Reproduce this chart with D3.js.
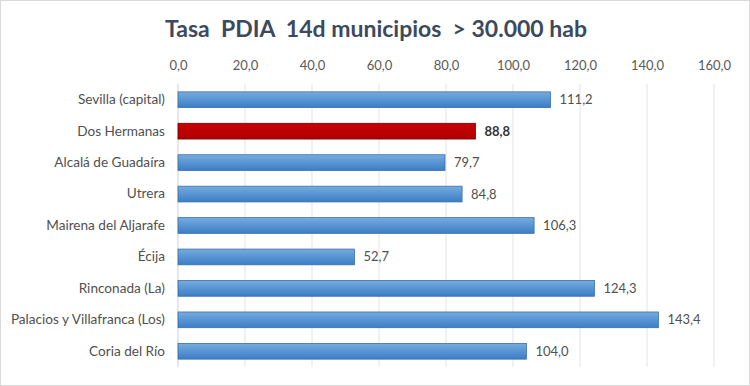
<!DOCTYPE html>
<html>
<head>
<meta charset="utf-8">
<script src="https://cdn.jsdelivr.net/npm/d3@7"></script>
<style>
  body { margin: 0; background: #fff; }
  svg { display: block; }
  text { font-family: Lato, "Open Sans", sans-serif; }
</style>
</head>
<body>
<svg id="chart" width="750" height="386"></svg>
<script>
// data
var municipios = ["Sevilla (capital)", "Dos Hermanas", "Alcalá de Guadaíra", "Utrera",
    "Mairena del Aljarafe", "Écija", "Rinconada (La)", "Palacios y Villafranca (Los)", "Coria del Río"];
var tasas = [111.2, 88.8, 79.7, 84.8, 106.3, 52.7, 124.3, 143.4, 104.0];
var destacado = "Dos Hermanas";
var xTicks = [0, 20, 40, 60, 80, 100, 120, 140, 160];
var titulo = "Tasa  PDIA  14d municipios  > 30.000 hab";

var W = 750, H = 386;
var margin = {top: 84, right: 34, bottom: 19, left: 178};

var svg = d3.select("#chart");
var fmt = function(v){ return d3.format(".1f")(v).replace(".", ","); };

// frame
svg.append("rect")
    .attr("x", 0.5).attr("y", 0.5)
    .attr("width", W - 1).attr("height", H - 1)
    .attr("fill", "#fff").attr("stroke", "#d9d9d9");

var defs = svg.append("defs");
function grad(id, c1, c2) {
    var g = defs.append("linearGradient").attr("id", id)
        .attr("x1", 0).attr("y1", 0).attr("x2", 0).attr("y2", 1);
    g.append("stop").attr("offset", "0%").attr("stop-color", c1);
    g.append("stop").attr("offset", "100%").attr("stop-color", c2);
}
grad("gBlue", "#76acdf", "#3b7dc6");
grad("gRed", "#c80000", "#b00000");

var x = d3.scaleLinear().domain([0, 160]).range([margin.left, W - margin.right - 2]);
var y = d3.scaleBand().domain(municipios)
    .range([margin.top, H - margin.bottom]).paddingInner(0.5).paddingOuter(0.25);

// title
svg.append("text")
    .attr("x", 376).attr("y", 37)
    .attr("text-anchor", "middle")
    .attr("font-size", 23).attr("font-weight", 700)
    .attr("fill", "#3b4a5c")
    .style("white-space", "pre")
    .text(titulo);

// gridlines
svg.append("g").selectAll("line")
    .data(xTicks)
    .join("line")
    .attr("x1", d => x(d)).attr("x2", d => x(d))
    .attr("y1", margin.top).attr("y2", H - margin.bottom)
    .attr("stroke", d => d === 0 ? "#d0d0d0" : "#e3e3e3")
    .attr("stroke-width", 1);

// top axis labels
var ax = svg.append("g")
    .attr("transform", "translate(0," + (margin.top - 11) + ")")
    .call(d3.axisTop(x).tickValues(xTicks).tickFormat(fmt).tickSize(0));
ax.select(".domain").remove();
ax.selectAll("text").attr("font-size", 13).attr("fill", "#595959")
    .attr("font-family", "Lato, sans-serif");

// category labels
var ay = svg.append("g")
    .attr("transform", "translate(" + (margin.left - 13) + ",0)")
    .call(d3.axisLeft(y).tickSize(0).tickPadding(0));
ay.select(".domain").remove();
ay.selectAll("text").attr("font-size", 13.6).attr("fill", "#505050")
    .attr("font-family", "Lato, sans-serif");

// bars
svg.append("g").selectAll("rect")
    .data(municipios)
    .join("rect")
    .attr("x", x(0))
    .attr("y", d => y(d))
    .attr("width", (d, i) => x(tasas[i]) - x(0))
    .attr("height", y.bandwidth())
    .attr("fill", d => d === destacado ? "url(#gRed)" : "url(#gBlue)")
    .attr("stroke", d => d === destacado ? "#6e0000" : "#3a6fa8")
    .attr("stroke-width", 0.8);

// value labels
svg.append("g").selectAll("text")
    .data(municipios)
    .join("text")
    .attr("x", (d, i) => x(tasas[i]) + 9)
    .attr("y", d => y(d) + y.bandwidth() / 2)
    .attr("dy", "0.35em")
    .attr("font-size", 13)
    .attr("font-weight", d => d === destacado ? 700 : 400)
    .attr("fill", d => d === destacado ? "#333" : "#505050")
    .text((d, i) => fmt(tasas[i]));
</script>
</body>
</html>
